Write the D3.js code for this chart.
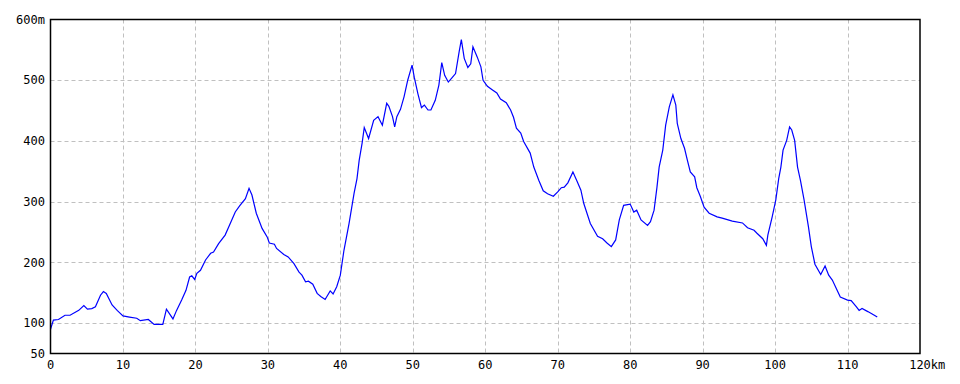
<!DOCTYPE html>
<html><head><meta charset="utf-8">
<script src="https://cdn.jsdelivr.net/npm/d3@7"></script>
<style>body{margin:0;background:#fff}svg{display:block}</style>
</head><body>
<script>
const distanceKm = [0,0.4,1.1,2.0,2.7,3.9,4.6,5.1,5.7,6.2,6.9,7.3,7.7,8.5,9.2,10.0,10.9,11.9,12.4,13.5,14.3,15.5,16.0,16.9,17.4,18.1,18.7,19.2,19.5,19.9,20.2,20.7,21.4,22.1,22.5,23.2,24.1,24.7,25.5,26.1,26.9,27.4,27.8,28.4,29.2,29.9,30.2,30.9,31.2,32.2,32.8,33.6,34.3,34.7,35.2,35.6,36.2,36.8,37.3,37.9,38.6,39.0,39.5,40.0,40.5,41.2,41.9,42.3,42.6,43.0,43.3,43.9,44.6,45.2,45.8,46.4,46.7,47.2,47.5,47.8,48.3,48.8,49.3,49.9,50.2,50.7,51.2,51.6,52.1,52.5,53.1,53.6,54.0,54.4,54.9,55.4,55.9,56.4,56.7,57.1,57.6,58.0,58.3,58.9,59.4,59.7,60.3,61.0,61.6,62.1,62.9,63.5,63.9,64.3,64.9,65.3,66.2,66.7,67.4,68.0,68.6,69.4,70.0,70.5,70.9,71.4,72.1,72.7,73.2,73.6,74.5,75.5,76.2,76.8,77.4,78.0,78.5,79.1,80.0,80.5,80.9,81.5,82.4,82.8,83.3,83.7,84.0,84.5,84.9,85.4,85.9,86.3,86.5,87.0,87.5,87.9,88.3,88.9,89.2,89.7,90.2,90.9,92.0,92.7,94.1,95.5,96.2,97.1,97.5,98.3,98.8,99.0,99.6,100.1,100.5,100.8,101.1,101.6,102.0,102.3,102.7,103.1,103.5,104.0,104.6,105.0,105.5,106.3,106.9,107.4,107.9,109.0,110.0,110.5,111.2,111.6,112.0,112.8,113.4,114.1];
const elevationM = [90,105,106,113,113,121,129,123,124,127,146,152,149,130,121,112,110,108,104,106,98,98,123,107,121,138,154,176,178,172,182,187,204,215,217,231,245,261,283,293,305,322,311,281,256,242,232,230,223,213,209,198,184,179,168,169,164,149,144,139,153,148,160,179,220,264,314,338,368,396,422,404,434,440,426,462,457,440,423,440,452,473,500,525,505,478,455,459,451,451,467,492,529,508,497,504,511,547,567,536,521,527,555,538,522,500,490,484,479,469,463,451,439,421,413,399,380,357,335,318,313,309,316,323,324,331,349,333,319,297,264,243,239,232,226,237,270,294,296,283,286,270,261,267,286,324,357,385,426,456,476,459,429,404,388,368,349,341,323,308,291,281,275,273,268,265,257,253,248,239,228,245,275,303,338,357,385,401,423,418,401,357,335,303,259,226,197,180,194,179,171,143,138,137,127,121,124,119,115,110];
const xTicks = [0,10,20,30,40,50,60,70,80,90,100,110,120];
const yTicks = [50,100,200,300,400,500,600];
const xGrid = [10,20,30,40,50,60,70,80,90,100,110];
const yGrid = [100,200,300,400,500];

const W = 960, H = 384;
const svg = d3.select("body").append("svg").attr("width", W).attr("height", H);
const x = d3.scaleLinear().domain([0,120]).range([50.5, 920]);
const y = d3.scaleLinear().domain([50,600]).range([353.5, 19.5]);
const font = "'DejaVu Sans Mono', monospace";

// grid
svg.append("g").selectAll("line").data(xGrid).join("line")
  .attr("x1", d => Math.round(x(d)) + 0.5).attr("x2", d => Math.round(x(d)) + 0.5)
  .attr("y1", y(600)).attr("y2", y(50))
  .attr("stroke", "#c0c0c0").attr("stroke-dasharray", "4,3");
svg.append("g").selectAll("line").data(yGrid).join("line")
  .attr("y1", d => Math.round(y(d)) + 0.5).attr("y2", d => Math.round(y(d)) + 0.5)
  .attr("x1", x(0)).attr("x2", x(120))
  .attr("stroke", "#c0c0c0").attr("stroke-dasharray", "4,3");

// line
const line = d3.line().x((d,i) => x(distanceKm[i])).y(d => y(d));
svg.append("path").datum(elevationM).attr("d", line)
  .attr("fill", "none").attr("stroke", "#0000ff").attr("stroke-width", 1.2);

// frame
svg.append("rect").attr("x", x(0)).attr("y", y(600))
  .attr("width", x(120) - x(0)).attr("height", y(50) - y(600))
  .attr("fill", "none").attr("stroke", "#000").attr("stroke-width", 1.5);

// y labels
svg.append("g").selectAll("text").data(yTicks).join("text")
  .attr("x", 45).attr("y", d => y(d)).attr("dy", "0.35em")
  .attr("text-anchor", "end").attr("font-family", font).attr("font-size", 12)
  .text(d => d === 600 ? d + "m" : d);

// x labels
const xl = svg.append("g").selectAll("text").data(xTicks).join("text")
  .attr("y", 365).attr("dy", "0.35em")
  .attr("font-family", font).attr("font-size", 12)
  .text(d => d === 120 ? d + "km" : d);
xl.each(function(d){
  const t = d3.select(this);
  if (d === 120) {
    const numW = String(d).length * 12 * 0.602;
    t.attr("x", x(d) - numW / 2).attr("text-anchor", "start");
  } else {
    t.attr("x", x(d)).attr("text-anchor", "middle");
  }
});
</script>
</body></html>
